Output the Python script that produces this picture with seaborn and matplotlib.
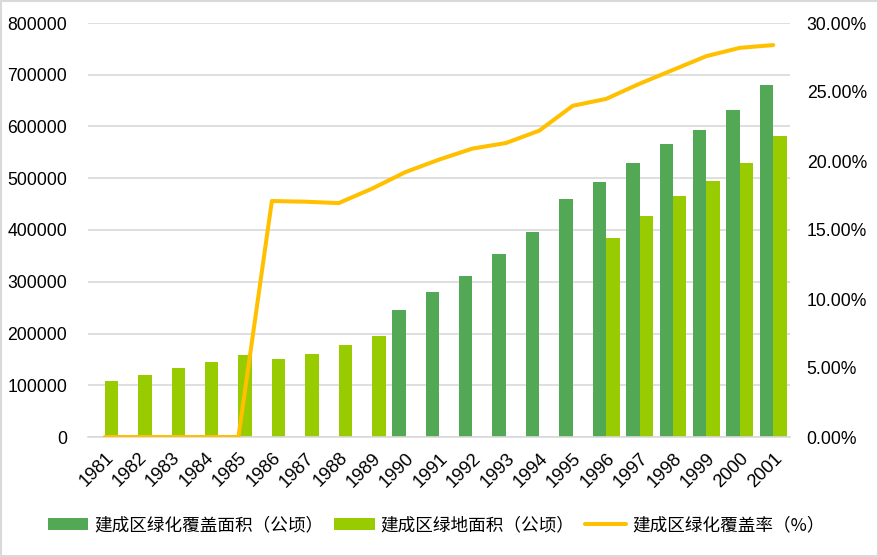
import numpy as np
import pandas as pd
import matplotlib
matplotlib.use("Agg")
import matplotlib.pyplot as plt
import seaborn as sns
from matplotlib.patches import Patch, Rectangle
from matplotlib.lines import Line2D
from matplotlib.ticker import FuncFormatter, MultipleLocator

years = [str(y) for y in range(1981, 2002)]
cover_area = [np.nan] * 9 + [246000, 281000, 312000, 354000, 396000, 460000,
                             493000, 530000, 566000, 593000, 631000, 681000]
green_area = [109000, 120000, 134000, 145000, 158000, 151000, 160000, 178000, 195000,
              np.nan, np.nan, np.nan, np.nan, np.nan, np.nan,
              385000, 427000, 466000, 495000, 530000, 582000]
cover_rate = [0, 0, 0, 0, 0, 17.1, 17.05, 16.95, 18.0, 19.2, 20.1, 20.9,
              21.3, 22.2, 24.0, 24.5, 25.6, 26.6, 27.6, 28.2, 28.4]

s_cover = "建成区绿化覆盖面积（公顷）"
s_green = "建成区绿地面积（公顷）"
s_rate = "建成区绿化覆盖率（%）"

df = pd.DataFrame({
    "year": years * 2,
    "value": cover_area + green_area,
    "series": [s_cover] * len(years) + [s_green] * len(years),
})

c_dark = "#52A855"
c_light = "#99CC00"
c_line = "#FFC000"

sns.set_theme(style="white")
plt.rcParams["font.family"] = ["Liberation Sans", "Noto Sans CJK SC", "DejaVu Sans"]
plt.rcParams["text.color"] = "#000000"

fig = plt.figure(figsize=(8.79, 5.57), dpi=100)
ax = fig.add_axes([88 / 879, 120 / 557, 702 / 879, 414 / 557])

sns.barplot(data=df, x="year", y="value", hue="series", order=years,
            hue_order=[s_cover, s_green], palette=[c_dark, c_light],
            width=0.8, gap=0, saturation=1, linewidth=0, ax=ax, legend=False)

ax.set_xlim(-0.5, len(years) - 0.5)
ax.set_ylim(0, 800000)
ax.yaxis.set_major_locator(MultipleLocator(100000))
ax.yaxis.set_major_formatter(FuncFormatter(lambda v, p: f"{int(v)}"))
ax.grid(axis="y", color="#D9D9D9", linewidth=1.2)
ax.set_axisbelow(True)
for side in ["left", "right", "top"]:
    ax.spines[side].set_visible(False)
ax.spines["bottom"].set_color("#D9D9D9")
ax.spines["bottom"].set_linewidth(1.2)
ax.set_xlabel("")
ax.set_ylabel("")
ax.tick_params(axis="y", length=0, pad=15, labelsize=12.7, labelcolor="#000000")
ax.tick_params(axis="x", length=0, pad=9, labelsize=13.2, labelcolor="#000000")
for lab in ax.get_xticklabels():
    lab.set_rotation(45)
    lab.set_ha("right")
    lab.set_va("top")
    lab.set_rotation_mode("anchor")

ax2 = ax.twinx()
sns.lineplot(x=np.arange(len(years)), y=cover_rate, color=c_line, linewidth=2.9,
             ax=ax2, solid_joinstyle="round", solid_capstyle="round")
ax2.set_ylim(0, 30)
ax2.yaxis.set_major_locator(MultipleLocator(5))
ax2.yaxis.set_major_formatter(FuncFormatter(lambda v, p: f"{v:.2f}%"))
ax2.tick_params(axis="y", length=0, pad=12, labelsize=12.7, labelcolor="#000000")
for side in ["left", "right", "top", "bottom"]:
    ax2.spines[side].set_visible(False)
ax2.set_xlim(-0.5, len(years) - 0.5)
ax2.grid(False)

handles = [Patch(facecolor=c_dark, edgecolor="none"),
           Patch(facecolor=c_light, edgecolor="none"),
           Line2D([0], [0], color=c_line, linewidth=2.9)]
leg = fig.legend(handles, [s_cover, s_green, s_rate], loc="center",
                 bbox_to_anchor=(436 / 879, 1 - 525 / 557), ncol=3, frameon=False,
                 prop={"family": ["Noto Sans CJK SC", "DejaVu Sans"], "size": 12.7},
                 handlelength=2.3, handleheight=0.7, handletextpad=0.35,
                 columnspacing=0.6, borderpad=0)
for t in leg.get_texts():
    t.set_color("#000000")

fig.add_artist(Rectangle((0.001, 0.001), 0.998, 0.998, transform=fig.transFigure,
                         fill=False, edgecolor="#D9D9D9", linewidth=1.5))

fig.savefig("out.png", dpi=100)
